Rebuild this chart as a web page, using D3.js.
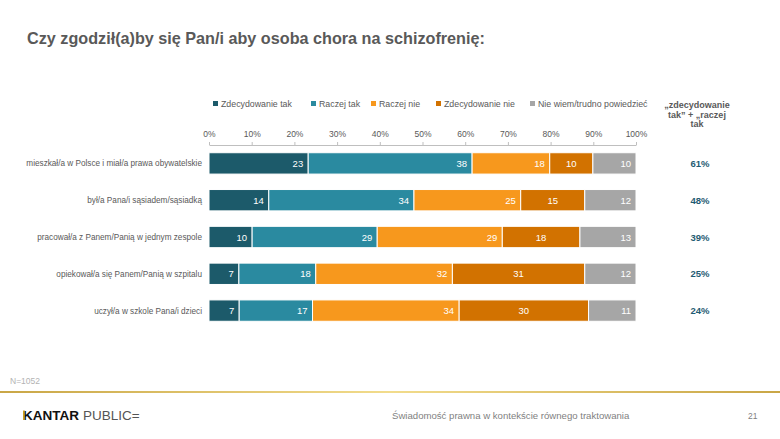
<!DOCTYPE html>
<html><head><meta charset="utf-8">
<script src="https://cdn.jsdelivr.net/npm/d3@7"></script>
<style>body{margin:0;background:#fff;}svg{display:block;font-family:"Liberation Sans",Arial,sans-serif;}</style>
</head><body>
<svg id="c" width="780" height="439"></svg>
<script>
const categories = [
  "mieszkał/a w Polsce i miał/a prawa obywatelskie",
  "był/a Pana/i sąsiadem/sąsiadką",
  "pracował/a z Panem/Panią w jednym zespole",
  "opiekował/a się Panem/Panią w szpitalu",
  "uczył/a w szkole Pana/i dzieci"
];
const seriesNames = ["Zdecydowanie tak","Raczej tak","Raczej nie","Zdecydowanie nie","Nie wiem/trudno powiedzieć"];
const zdecydowanieTak = [23,14,10,7,7];
const raczejTak = [38,34,29,18,17];
const raczejNie = [18,25,29,32,34];
const zdecydowanieNie = [10,15,18,31,30];
const nieWiem = [10,12,13,12,11];
const summary = ["61%","48%","39%","25%","24%"];
const tickLabels = ["0%","10%","20%","30%","40%","50%","60%","70%","80%","90%","100%"];
const colors = ["#1c5a6a","#2a8aa0","#f7981d","#d27200","#a6a6a6"];

const svg = d3.select("#c");
const grey = "#595959";

// title
svg.append("text").attr("x",27).attr("y",44).attr("font-size",16.2).attr("font-weight","bold")
  .attr("fill",grey).text("Czy zgodził(a)by się Pan/i aby osoba chora na schizofrenię:");

const table = categories.map((c,i)=>({cat:c, s0:zdecydowanieTak[i], s1:raczejTak[i], s2:raczejNie[i], s3:zdecydowanieNie[i], s4:nieWiem[i]}));
const keys = ["s0","s1","s2","s3","s4"];
const stacked = d3.stack().keys(keys).offset(d3.stackOffsetExpand)(table);

const x = d3.scaleLinear().domain([0,1]).range([209,636]);
const y = d3.scaleBand().domain(categories).range([145,329]).paddingInner(0.42).paddingOuter(0.21);

// axis
const axis = d3.axisTop(x).tickValues(d3.range(0,1.0001,0.1)).tickFormat((d,i)=>tickLabels[i]).tickSize(3).tickSizeOuter(0);
const ag = svg.append("g").attr("transform","translate(0,145)").call(axis);
ag.select(".domain").attr("stroke","#bfbfbf");
ag.selectAll(".tick line").attr("stroke","#bfbfbf");
ag.selectAll(".tick text").attr("fill",grey).attr("font-size",8.5).attr("font-family","Liberation Sans, Arial, sans-serif").attr("dy","-2");

// bars
stacked.forEach((layer,li)=>{
  const g = svg.append("g");
  g.selectAll("rect").data(layer).join("rect")
    .attr("x",d=>x(d[0])).attr("width",d=>x(d[1])-x(d[0]))
    .attr("y",(d,i)=>y(categories[i])).attr("height",y.bandwidth())
    .attr("fill",colors[li]).attr("stroke","#ffffff").attr("stroke-width",1);
  g.selectAll("text").data(layer).join("text")
    .attr("x",d=> li===3 ? (x(d[0])+x(d[1]))/2 : x(d[1])-5)
    .attr("text-anchor", li===3 ? "middle" : "end")
    .attr("y",(d,i)=>y(categories[i])+y.bandwidth()/2+3.5)
    .attr("font-size",9.5).attr("fill","#ffffff")
    .text(d=>d.data[keys[li]]);
});

// category labels
svg.append("g").selectAll("text").data(categories).join("text")
  .attr("x",202).attr("y",d=>y(d)+y.bandwidth()/2+3).attr("text-anchor","end")
  .attr("font-size",8.2).attr("fill",grey).text(d=>d);

// summary
svg.append("g").selectAll("text").data(summary).join("text")
  .attr("x",700).attr("y",(d,i)=>y(categories[i])+y.bandwidth()/2+3.5).attr("text-anchor","middle")
  .attr("font-size",9.5).attr("font-weight","bold").attr("fill","#1f5c73").text(d=>d);

// summary header
const hdr = ["„zdecydowanie","tak” + „raczej","tak"];
svg.append("g").selectAll("text").data(hdr).join("text")
  .attr("x",697).attr("y",(d,i)=>108+i*9.5).attr("text-anchor","middle")
  .attr("font-size",9).attr("font-weight","bold").attr("fill",grey).text(d=>d);

// legend
const legX = [213,311,371,436,530];
const lg = svg.append("g");
seriesNames.forEach((n,i)=>{
  lg.append("rect").attr("x",legX[i]).attr("y",101).attr("width",5).attr("height",5).attr("fill",colors[i]);
  lg.append("text").attr("x",legX[i]+8).attr("y",106.5).attr("font-size",8.8).attr("fill",grey).text(n);
});

// footer
svg.append("text").attr("x",10).attr("y",384).attr("font-size",8.5).attr("fill","#b3b3b3").text("N=1052");
const defs = svg.append("defs");
const grad = defs.append("linearGradient").attr("id","gold").attr("x1","0").attr("x2","1");
grad.append("stop").attr("offset","0").attr("stop-color","#c9a646");
grad.append("stop").attr("offset","0.5").attr("stop-color","#f2dc8c");
grad.append("stop").attr("offset","1").attr("stop-color","#c9a646");
svg.append("rect").attr("x",0).attr("y",391).attr("width",780).attr("height",2).attr("fill","url(#gold)");

const logo = svg.append("text").attr("x",23).attr("y",420).attr("font-size",13.5);
logo.append("tspan").attr("font-weight","bold").attr("fill","#111").text("KANTAR");
logo.append("tspan").attr("dx",4).attr("fill","#555").text("PUBLIC=");
svg.append("rect").attr("x",23).attr("y",410.5).attr("width",1.8).attr("height",9.5).attr("fill","#c9a020");

svg.append("text").attr("x",392).attr("y",419).attr("font-size",9.6).attr("fill","#7f7f7f")
  .text("Świadomość prawna w kontekście równego traktowania");
svg.append("text").attr("x",748).attr("y",419).attr("font-size",8.5).attr("fill","#7f7f7f").text("21");
</script>
</body></html>
